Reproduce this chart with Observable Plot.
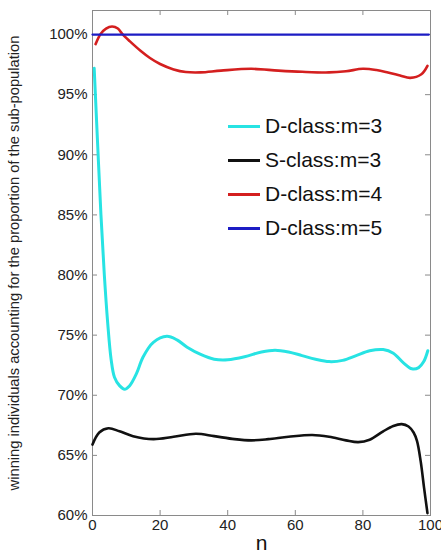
<!DOCTYPE html>
<html><head><meta charset="utf-8">
<script src="https://cdn.jsdelivr.net/npm/d3@7"></script>
<script src="https://cdn.jsdelivr.net/npm/@observablehq/plot@0.6"></script>
<style>
body{margin:0;background:#fff;font-family:"Liberation Sans",Arial,sans-serif;}
#wrap{position:relative;width:441px;height:550px;overflow:hidden;}
#legend{position:absolute;left:228px;top:109px;font-size:21px;color:#111;}
#legend .row{display:flex;align-items:center;height:34px;}
#legend .sw{width:32px;height:3px;margin-right:5px;}
</style></head>
<body><div id="wrap"><div id="chart"></div><div id="legend"></div></div>
<script>
// D-class m=3 (cyan)
const nD3 = [0.5,1.5,2.5,3.5,4.5,5.5,6.5,8,9.5,11,13,15,18,22,25,28,32,36,40,45,50,54,58,62,66,70,74,78,82,86,89,92,94.5,96.5,98,99.2];
const vD3 = [97.2,91,85,80,76,73,71.5,70.8,70.5,70.8,71.8,73.2,74.4,74.9,74.6,74,73.4,73.0,72.95,73.2,73.6,73.75,73.6,73.3,73.0,72.8,72.9,73.3,73.7,73.8,73.5,72.7,72.2,72.3,72.8,73.7];
// S-class m=3 (black)
const nS3 = [0,2,4.7,8,12,18,24,30.6,36,42,47,52,58,65,70,75,78.6,82,86,89,91.5,93.5,95,96,97.1,98.1,99.1];
const vS3 = [65.9,66.9,67.25,67.0,66.6,66.35,66.55,66.8,66.6,66.35,66.25,66.35,66.55,66.7,66.55,66.25,66.1,66.3,67.0,67.45,67.6,67.4,66.9,66.2,64.5,62.3,60.2];
// D-class m=4 (red)
const nD4 = [0.9,2.4,4,5.8,7.5,8.8,11,14.2,17,20,24,27.6,32,38,47,55,62,70,75,80,84,87.4,91,94,97.3,99.1];
const vD4 = [99.2,100.05,100.5,100.67,100.5,100.05,99.45,98.65,98.05,97.55,97.1,96.88,96.85,97.0,97.15,97.0,96.9,96.85,96.95,97.15,97.05,96.85,96.6,96.4,96.7,97.4];
// D-class m=5 (blue)
const nD5 = [0,20,40,60,80,99.5];
const vD5 = [100,100,100,100,100,100];

const series = [
  {name:"D-class:m=3", n:nD3, v:vD3, color:"#27e3e3", w:3},
  {name:"S-class:m=3", n:nS3, v:vS3, color:"#111111", w:2.6},
  {name:"D-class:m=4", n:nD4, v:vD4, color:"#d41f1f", w:2.6},
  {name:"D-class:m=5", n:nD5, v:vD5, color:"#1c1cc4", w:2.2}
];
const xTicks = [0,20,40,60,80,100];
const yTicks = [60,65,70,75,80,85,90,95,100];
const yLabel = "winning individuals accounting for the proportion of the sub-population";
const xLabel = "n";

const H = 550, mt = 10, mb = 35, ph = H - mt - mb;
const marks = [
  Plot.frame({stroke:"#8a8a8a", strokeWidth:1}),
  Plot.ruleX(xTicks, {stroke:"#8a8a8a", insetTop: ph - 5}),
  Plot.ruleX(xTicks, {stroke:"#8a8a8a", insetBottom: ph - 5}),
  Plot.ruleY(yTicks, {stroke:"#8a8a8a", insetRight: 338 - 5}),
  Plot.ruleY(yTicks, {stroke:"#8a8a8a", insetLeft: 338 - 5}),
  Plot.axisX(xTicks, {tickSize:0, tickPadding:4, fontSize:15, fill:"#222", label:null, tickFormat:d=>String(d)}),
  Plot.axisY(yTicks, {tickSize:0, tickPadding:5, fontSize:15, fill:"#222", label:null, tickFormat:d=>d+"%"}),
];
for (const s of series) {
  const data = s.n.map((n,i)=>({n, v:s.v[i]}));
  marks.push(Plot.line(data, {x:"n", y:"v", stroke:s.color, strokeWidth:s.w, curve:"catmull-rom", clip:false}));
}
marks.push(Plot.text([yLabel], {frameAnchor:"left", textAnchor:"middle", dx:-78, dy:0, rotate:-90, fontSize:14.7, fill:"#222"}));
marks.push(Plot.text([xLabel], {frameAnchor:"bottom", dy:34, fontSize:21, fill:"#111"}));

const chart = Plot.plot({
  width:441, height:H,
  marginLeft:92, marginRight:11, marginTop:mt, marginBottom:mb,
  style:{fontFamily:'"Liberation Sans", Arial, sans-serif', background:"#fff"},
  x:{domain:[0,100]},
  y:{domain:[60,102]},
  marks
});
document.getElementById("chart").appendChild(chart);

const lg = document.getElementById("legend");
for (const s of series) {
  const r = document.createElement("div"); r.className="row";
  const sw = document.createElement("div"); sw.className="sw"; sw.style.background=s.color;
  const t = document.createElement("span"); t.textContent=s.name;
  r.appendChild(sw); r.appendChild(t); lg.appendChild(r);
}
</script></body></html>
